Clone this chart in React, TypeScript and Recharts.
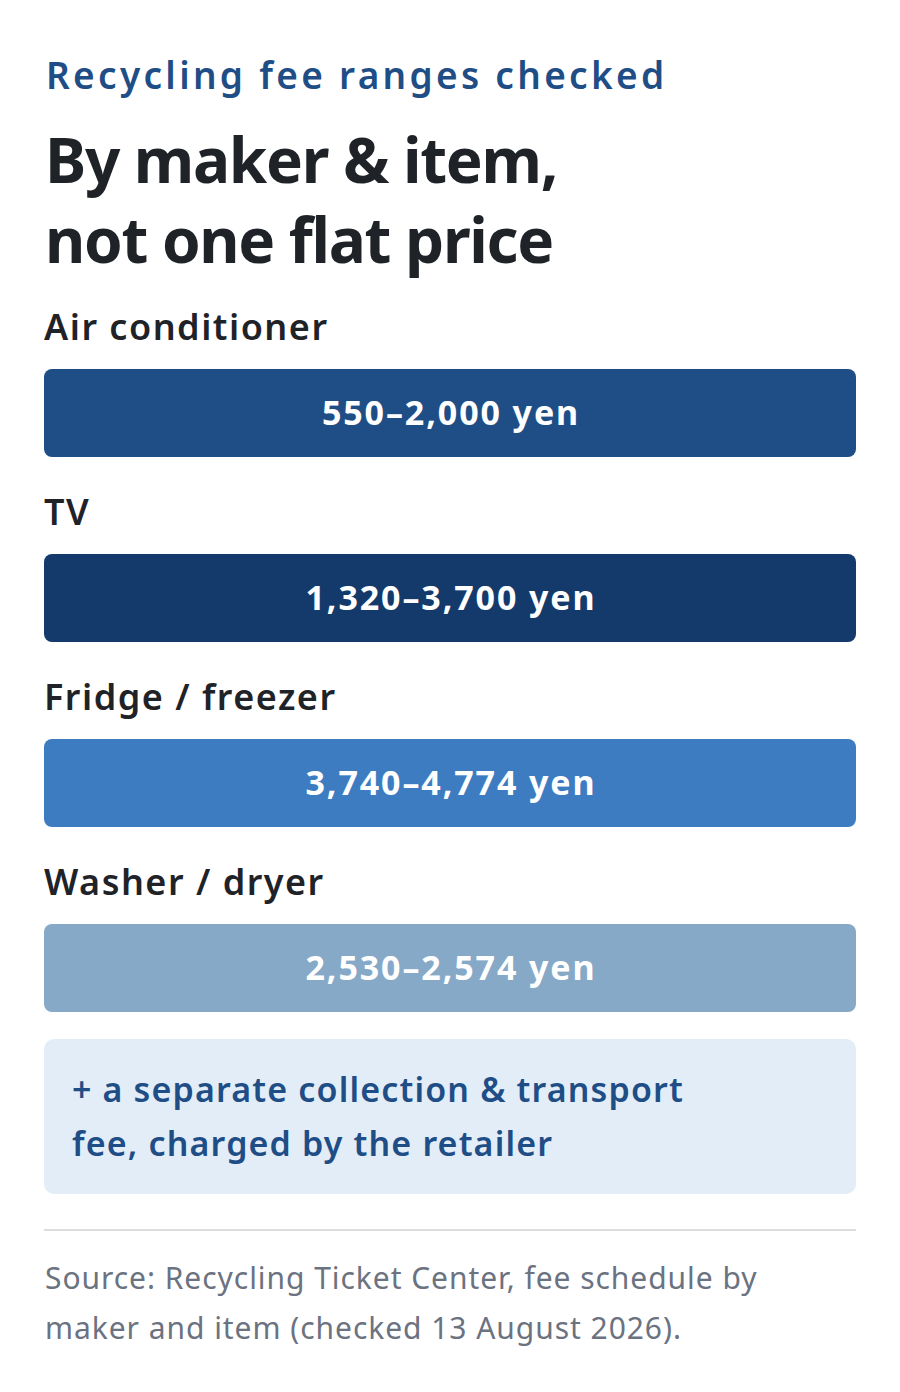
import { BarChart, Bar, XAxis, YAxis, Cell, LabelList } from "recharts"

const items = ["Air conditioner", "TV", "Fridge / freezer", "Washer / dryer"]
const feeRanges = ["550–2,000 yen", "1,320–3,700 yen", "3,740–4,774 yen", "2,530–2,574 yen"]
// every bar fills its row: the card shows ranges as text, not as lengths
const rowSpan = [1, 1, 1, 1]
const barColors = ["#1f4e87", "#133a6b", "#3d7cc0", "#87a9c8"]

const data = items.map((item, i) => ({ item, fee: feeRanges[i], span: rowSpan[i] }))

const FONT = "'Noto Sans', Roboto, sans-serif"

const ItemLabel = (props: any) => {
  const { x, y, value } = props
  return (
    <text
      x={x}
      y={y - 29}
      fill="#1f2328"
      fontSize={36}
      fontWeight={600}
      letterSpacing={1.5}
      fontFamily={FONT}
    >
      {value}
    </text>
  )
}

const FeeLabel = (props: any) => {
  const { x, y, width, height, value } = props
  return (
    <text
      x={x + width / 2 + 1}
      y={y + height / 2 + 12}
      fill="#ffffff"
      fontSize={34}
      fontWeight={700}
      letterSpacing={1.9}
      textAnchor="middle"
      fontFamily={FONT}
    >
      {value}
    </text>
  )
}

export default function App() {
  return (
    <div
      style={{
        position: "absolute",
        top: 0,
        left: 0,
        width: 900,
        height: 1392,
        background: "#fff",
        fontFamily: FONT,
      }}
    >
      {/* Header */}
      <div
        style={{
          position: "absolute",
          left: 46,
          top: 50,
          fontSize: 37,
          fontWeight: 600,
          letterSpacing: 3.3,
          color: "#1f4e87",
          lineHeight: "50px",
        }}
      >
        Recycling fee ranges checked
      </div>
      <div
        style={{
          position: "absolute",
          left: 45,
          top: 119,
          fontSize: 62,
          fontWeight: 700,
          letterSpacing: -1.3,
          color: "#1f2328",
          lineHeight: "80px",
        }}
      >
        By maker &amp; item,
        <br />
        not one flat price
      </div>

      {/* Bars */}
      <div style={{ position: "absolute", left: 44, top: 300 }}>
        <BarChart
          layout="vertical"
          width={812}
          height={760}
          data={data}
          margin={{ top: 20, right: 0, bottom: 0, left: 0 }}
          barSize={88}
          style={{ overflow: "visible" }}
        >
          <XAxis type="number" domain={[0, 1]} hide />
          <YAxis type="category" dataKey="item" hide />
          <Bar dataKey="span" radius={8} isAnimationActive={false}>
            {data.map((d, i) => (
              <Cell key={d.item} fill={barColors[i]} />
            ))}
            <LabelList dataKey="item" content={ItemLabel} />
            <LabelList dataKey="fee" content={FeeLabel} />
          </Bar>
        </BarChart>
      </div>

      {/* Note */}
      <div
        style={{
          position: "absolute",
          left: 44,
          top: 1039,
          width: 812,
          height: 155,
          boxSizing: "border-box",
          background: "#e3edf7",
          borderRadius: 10,
          padding: "23px 28px",
          fontSize: 34,
          fontWeight: 600,
          letterSpacing: 1.15,
          color: "#1f4e87",
          lineHeight: "54px",
        }}
      >
        + a separate collection &amp; transport
        <br />
        fee, charged by the retailer
      </div>

      {/* Divider + source */}
      <div
        style={{
          position: "absolute",
          left: 44,
          top: 1229,
          width: 812,
          height: 2,
          background: "#dddddd",
        }}
      />
      <div
        style={{
          position: "absolute",
          left: 45,
          top: 1253,
          fontSize: 30,
          letterSpacing: 0.95,
          color: "#6b7280",
          lineHeight: "50px",
        }}
      >
        Source: Recycling Ticket Center, fee schedule by
        <br />
        maker and item (checked 13 August 2026).
      </div>
    </div>
  )
}
